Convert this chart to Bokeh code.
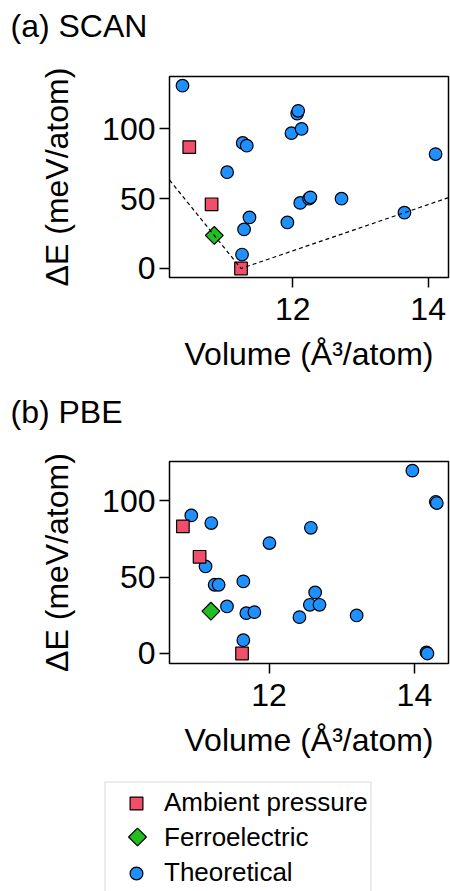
import math

from bokeh.embed import file_html
from bokeh.layouts import column
from bokeh.models import FixedTicker, Legend, LegendItem, Range1d
from bokeh.plotting import figure
from bokeh.resources import INLINE

FONT = "Liberation Sans"
RED = "#F04E6A"
GREEN = "#20BE20"
BLUE = "#1E90FF"

# ---- SCAN energies above the ground state vs. volume ----
scan_amb_vol = [10.47, 10.80, 11.235]
scan_amb_de = [87, 46, 0]
scan_fe_vol = [10.84]
scan_fe_de = [23.7]
scan_theo_vol = [10.37, 11.03, 11.26, 11.32, 11.25, 11.28, 11.36, 11.92, 11.98,
                 12.065, 12.08, 12.13, 12.11, 12.24, 12.26, 12.72, 13.65, 14.11]
scan_theo_de = [131, 69, 90, 88, 10, 28, 36.6, 33, 97,
                111, 113, 100, 47, 50, 51, 50, 40, 82]

# ---- PBE energies above the ground state vs. volume ----
pbe_amb_vol = [10.814, 11.044, 11.628]
pbe_amb_de = [83.2, 63.3, 0]
pbe_fe_vol = [11.20]
pbe_fe_de = [27.7]
pbe_theo_vol = [10.93, 11.205, 11.126, 11.251, 11.306, 11.421, 11.646, 11.646, 11.687,
                11.798, 12.005, 12.418, 12.575, 12.561, 12.634, 12.694, 13.205, 13.972,
                14.294, 14.308, 14.166, 14.179]
pbe_theo_de = [90.4, 85.4, 57.0, 45.0, 45.0, 30.8, 47.2, 8.7, 26.4,
               27.1, 72.3, 23.8, 82.3, 31.9, 40.0, 31.9, 24.9, 119.7,
               99.3, 98.5, 0.7, 0.0]

x_ticks = [12, 14]
y_ticks = [0, 50, 100]

X_TITLE = "Volume (Å³/atom)"
Y_TITLE = "ΔE (meV/atom)"
LEGEND_LABELS = ["Ambient pressure", "Ferroelectric", "Theoretical"]

MARKER_SIZE = 12.6
MARKER_LINE = 1.2
LEFT = 169          # left border of every panel (frames line up)


def tag_strip(tag, height=50):
    """Thin strip that only carries the panel tag, flush with the page margin."""
    t = figure(width=450, height=height, title=tag,
               x_range=Range1d(0, 1), y_range=Range1d(0, 1),
               output_backend="svg", toolbar_location=None,
               min_border_left=LEFT, min_border_right=2,
               min_border_top=0, min_border_bottom=0,
               x_axis_type=None, y_axis_type=None)
    t.grid.visible = False
    t.outline_line_color = None
    t.title.align = "left"
    t.title.offset = 10 - LEFT
    t.title.text_font = FONT
    t.title.text_font_size = "32px"
    t.title.text_font_style = "normal"
    t.title.text_color = "black"
    t.title.standoff = 10
    return t


def add_points(p, amb, fe, theo, fe_visible=True):
    r_theo = p.scatter(theo[0], theo[1], marker="circle", size=MARKER_SIZE,
                       fill_color=BLUE, line_color="black", line_width=MARKER_LINE)
    r_fe = p.scatter(fe[0], fe[1], marker="square", angle=math.pi / 4,
                     size=MARKER_SIZE,
                     fill_color=GREEN if fe_visible else None,
                     line_color="black" if fe_visible else None,
                     line_width=MARKER_LINE)
    r_amb = p.scatter(amb[0], amb[1], marker="square", size=MARKER_SIZE,
                      fill_color=RED, line_color="black", line_width=MARKER_LINE)
    return r_amb, r_fe, r_theo


def panel(xr, yr, amb, fe, theo, top, frame_h, height):
    p = figure(width=450, height=height,
               x_range=Range1d(*xr), y_range=Range1d(*yr),
               output_backend="svg", toolbar_location=None,
               min_border_left=LEFT, min_border_right=2,
               min_border_top=top, min_border_bottom=height - top - frame_h)
    p.grid.visible = False
    p.outline_line_color = "black"
    p.outline_line_width = 1.5
    p.background_fill_color = "white"
    p.border_fill_color = "white"

    p.xaxis.ticker = FixedTicker(ticks=x_ticks)
    p.yaxis.ticker = FixedTicker(ticks=y_ticks)
    for ax in (p.xaxis, p.yaxis):
        ax.axis_line_color = None
        ax.major_tick_in = 0
        ax.major_tick_out = 10
        ax.major_tick_line_width = 1.5
        ax.major_tick_line_color = "black"
        ax.minor_tick_line_color = None
        ax.major_label_text_font = FONT
        ax.major_label_text_font_size = "32px"
        ax.major_label_text_color = "black"
        ax.axis_label_text_font = FONT
        ax.axis_label_text_font_size = "32px"
        ax.axis_label_text_font_style = "normal"
        ax.axis_label_text_color = "black"
    p.yaxis.major_label_standoff = 4
    p.xaxis.major_label_standoff = 10
    p.xaxis.axis_label = X_TITLE
    p.xaxis.axis_label_standoff = 13
    p.yaxis.axis_label = Y_TITLE
    p.yaxis.axis_label_standoff = 24

    add_points(p, amb, fe, theo)
    return p


tag_a = tag_strip("(a) SCAN")
p1 = panel((10.178, 14.301), (-6.46, 137.6),
           (scan_amb_vol, scan_amb_de), (scan_fe_vol, scan_fe_de),
           (scan_theo_vol, scan_theo_de), top=26, frame_h=201, height=336)

# dashed hull through the ferroelectric point, the ground state and the
# theoretical point at 13.65, extended to the frame edges
x_lo, x_hi = p1.x_range.start, p1.x_range.end
gx, gy = scan_amb_vol[2], scan_amb_de[2]
lx, ly = scan_fe_vol[0], scan_fe_de[0]
rx, ry = scan_theo_vol[16], scan_theo_de[16]
y_left = gy + (ly - gy) / (lx - gx) * (x_lo - gx)
y_right = gy + (ry - gy) / (rx - gx) * (x_hi - gx)
p1.line([x_lo, gx, x_hi], [y_left, gy, y_right],
        line_color="black", line_width=1.2, line_dash="4 3")

tag_b = tag_strip("(b) PBE")
p2 = panel((10.630, 14.469), (-6.55, 125.7),
           (pbe_amb_vol, pbe_amb_de), (pbe_fe_vol, pbe_fe_de),
           (pbe_theo_vol, pbe_theo_de), top=25, frame_h=202, height=334)

# ---- shared legend strip ----
# The strip holds the same three series (outside its own unit ranges, so
# nothing shows in the frame); they only supply the legend swatches.
STRIP_W, STRIP_H = 450, 121
p3 = figure(width=STRIP_W, height=STRIP_H, x_range=Range1d(0, 1), y_range=Range1d(0, 1),
            output_backend="svg", toolbar_location=None, min_border=0,
            x_axis_type=None, y_axis_type=None)
p3.grid.visible = False
p3.outline_line_color = None
p3.background_fill_color = "white"

# legend swatches ignore marker rotation, so the diamond key is drawn in the
# strip itself and shows through the legend's transparent body
key_px, key_py = 137, 66.5        # swatch centre in strip pixels (from top-left)
p3.scatter([key_px / STRIP_W], [1 - key_py / STRIP_H], marker="square",
           angle=math.pi / 4, size=MARKER_SIZE, fill_color=GREEN,
           line_color="black", line_width=MARKER_LINE)

r_amb, r_fe, r_theo = add_points(p3, (pbe_amb_vol, pbe_amb_de),
                                 (pbe_fe_vol, pbe_fe_de),
                                 (pbe_theo_vol, pbe_theo_de), fe_visible=False)
legend = Legend(
    items=[LegendItem(label=LEGEND_LABELS[0], renderers=[r_amb]),
           LegendItem(label=LEGEND_LABELS[1], renderers=[r_fe]),
           LegendItem(label=LEGEND_LABELS[2], renderers=[r_theo])],
    location=(104, -3), margin=0, padding=2, spacing=0,
    glyph_width=56, glyph_height=32, label_height=35, label_standoff=0,
    label_text_font=FONT, label_text_font_size="26px", label_text_color="black",
    border_line_color="#D9D9D9", border_line_width=2,
    background_fill_alpha=0.0,
)
p3.add_layout(legend)

layout = column(column(tag_a, p1, tag_b, p2, spacing=0), column(p3), spacing=0)

with open("out.html", "w") as f:
    f.write(file_html(layout, INLINE))
